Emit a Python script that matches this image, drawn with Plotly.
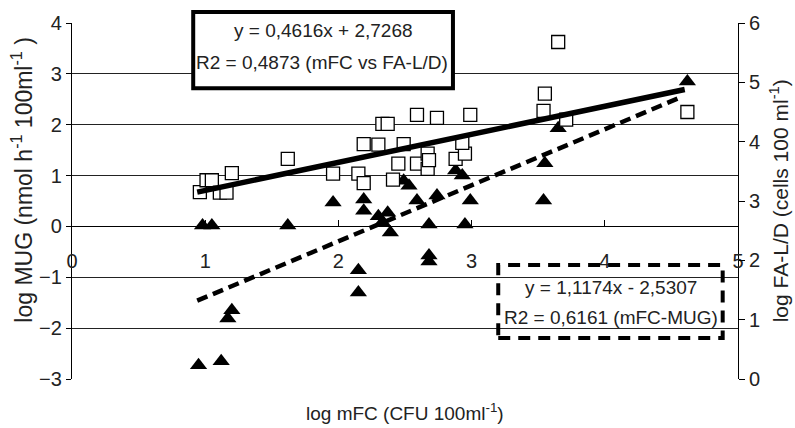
import plotly.graph_objects as go

# log mFC (x) vs log MUG (left axis) - triangles
mug_x = [0.95, 1.12, 1.20, 1.17, 0.98, 1.05, 1.62, 1.96, 2.15, 2.15, 2.19, 2.19,
         2.30, 2.37, 2.33, 2.39, 2.59, 2.74, 2.99, 2.68, 2.95, 2.49, 2.53, 2.88,
         2.93, 2.68, 2.68, 3.54, 3.55, 3.65, 4.62]
mug_y = [-2.73, -2.65, -1.65, -1.81, 0.02, 0.02, 0.02, 0.47, -0.86, -1.30, 0.53, 0.31,
         0.20, 0.27, 0.08, -0.12, 0.51, 0.61, 0.51, 0.04, 0.04, 0.90, 0.80, 1.10,
         1.00, -0.57, -0.69, 0.51, 1.24, 1.93, 2.85]

# log mFC (x) vs log FA-L/D (right axis) - open squares
fald_x = [0.96, 1.01, 1.05, 1.11, 1.16, 1.20, 1.62, 1.96, 2.15, 2.19, 2.19, 2.30,
          2.33, 2.37, 2.49, 2.41, 2.45, 2.59, 2.59, 2.74, 2.99, 2.67, 2.67, 2.68,
          2.88, 2.95, 2.93, 3.65, 3.55, 3.54, 3.71, 4.62]
fald_y = [3.15, 3.35, 3.35, 3.14, 3.14, 3.47, 3.71, 3.46, 3.46, 3.30, 3.96, 3.95,
          4.30, 4.30, 3.96, 3.36, 3.63, 3.63, 4.45, 4.40, 4.45, 3.80, 3.54, 3.69,
          3.71, 3.80, 3.98, 5.68, 4.81, 4.52, 4.37, 4.50]

# trend lines (end points)
fit_fald_x = [0.94, 4.60]
fit_fald_y = [3.15, 4.88]
fit_mug_x = [0.94, 4.58]
fit_mug_y = [-1.46, 2.55]

x_ticks = [0, 1, 2, 3, 4, 5]
left_ticks = [-3, -2, -1, 0, 1, 2, 3, 4]
right_ticks = [0, 1, 2, 3, 4, 5, 6]

eq_fald = ["y = 0,4616x + 2,7268", "R2 = 0,4873 (mFC vs FA-L/D)"]
eq_mug = ["y = 1,1174x - 2,5307", "R2 = 0,6161 (mFC-MUG)"]

FONT = "Liberation Sans, Arial, sans-serif"
TXT = "#222222"

fig = go.Figure()
fig.add_trace(go.Scatter(x=mug_x, y=mug_y, mode="markers",
                         marker=dict(symbol="triangle-up", size=15, color="black",
                                     line=dict(width=0))))
fig.add_trace(go.Scatter(x=fit_mug_x, y=fit_mug_y, mode="lines",
                         line=dict(color="black", width=4.5, dash="11px,6px")))
fig.add_trace(go.Scatter(x=fald_x, y=fald_y, yaxis="y2", mode="markers",
                         marker=dict(symbol="square", size=13, color="white",
                                     line=dict(color="black", width=1.3))))
fig.add_trace(go.Scatter(x=fit_fald_x, y=fit_fald_y, yaxis="y2", mode="lines",
                         line=dict(color="black", width=5.5)))

fig.update_layout(
    width=795, height=428,
    margin=dict(l=72, r=57, t=23, b=49),
    paper_bgcolor="white", plot_bgcolor="white",
    showlegend=False,
    font=dict(family=FONT, color=TXT, size=20),
    xaxis=dict(range=[0, 5], tickvals=x_ticks, anchor="free", position=3/7,
               showline=True, linecolor="black", linewidth=1.2,
               ticks="inside", ticklen=6, tickcolor="black", tickwidth=1,
               ticklabelstandoff=16, showgrid=False, zeroline=False,
               tickfont=dict(size=20, color=TXT)),
    yaxis=dict(range=[-3, 4], tickvals=left_ticks, showline=True,
               linecolor="black", linewidth=1.2, ticks="outside", ticklen=5,
               tickcolor="black", showgrid=True, gridcolor="#222222",
               gridwidth=1, zeroline=False, tickfont=dict(size=20, color=TXT)),
    yaxis2=dict(range=[0, 6], tickvals=right_ticks, overlaying="y", side="right",
                showline=True, linecolor="black", linewidth=1.2, ticks="outside",
                ticklen=6, tickcolor="black", showgrid=False, zeroline=False,
                tickfont=dict(size=20, color=TXT)),
)

# equation boxes
fig.add_shape(type="rect", xref="paper", yref="paper", x0=0.182, x1=0.572,
              y0=0.817, y1=1.031, line=dict(color="black", width=4),
              fillcolor="white", layer="above")
fig.add_shape(type="rect", xref="paper", yref="paper", x0=0.640, x1=0.977,
              y0=0.115, y1=0.320, line=dict(color="black", width=4, dash="12px,8px"),
              fillcolor="rgba(0,0,0,0)", layer="above")

ann = [
    (0.377, 0.980, eq_fald[0]),
    (0.375, 0.888, eq_fald[1]),
    (0.809, 0.256, eq_mug[0]),
    (0.809, 0.174, eq_mug[1]),
]
for x, y, t in ann:
    fig.add_annotation(xref="paper", yref="paper", x=x, y=y, text=t, showarrow=False,
                       xanchor="center", yanchor="middle",
                       font=dict(size=19, color=TXT, family=FONT))

# axis titles
fig.add_annotation(xref="paper", yref="paper", x=0.5, y=-0.093,
                   text="log mFC (CFU 100ml<sup>-1</sup>)", showarrow=False,
                   xanchor="center", yanchor="middle",
                   font=dict(size=19, color=TXT, family=FONT))
fig.add_annotation(xref="paper", yref="paper", x=-0.075, y=0.56,
                   text="log MUG (nmol h<sup>-1</sup> 100ml<sup>-1</sup> )",
                   showarrow=False, textangle=-90, xanchor="center", yanchor="middle",
                   font=dict(size=23, color=TXT, family=FONT))
fig.add_annotation(xref="paper", yref="paper", x=1.062, y=0.50,
                   text="log FA-L/D (cells 100 ml<sup>-1</sup>)",
                   showarrow=False, textangle=-90, xanchor="center", yanchor="middle",
                   font=dict(size=21, color=TXT, family=FONT))

fig.write_html("out.html")
